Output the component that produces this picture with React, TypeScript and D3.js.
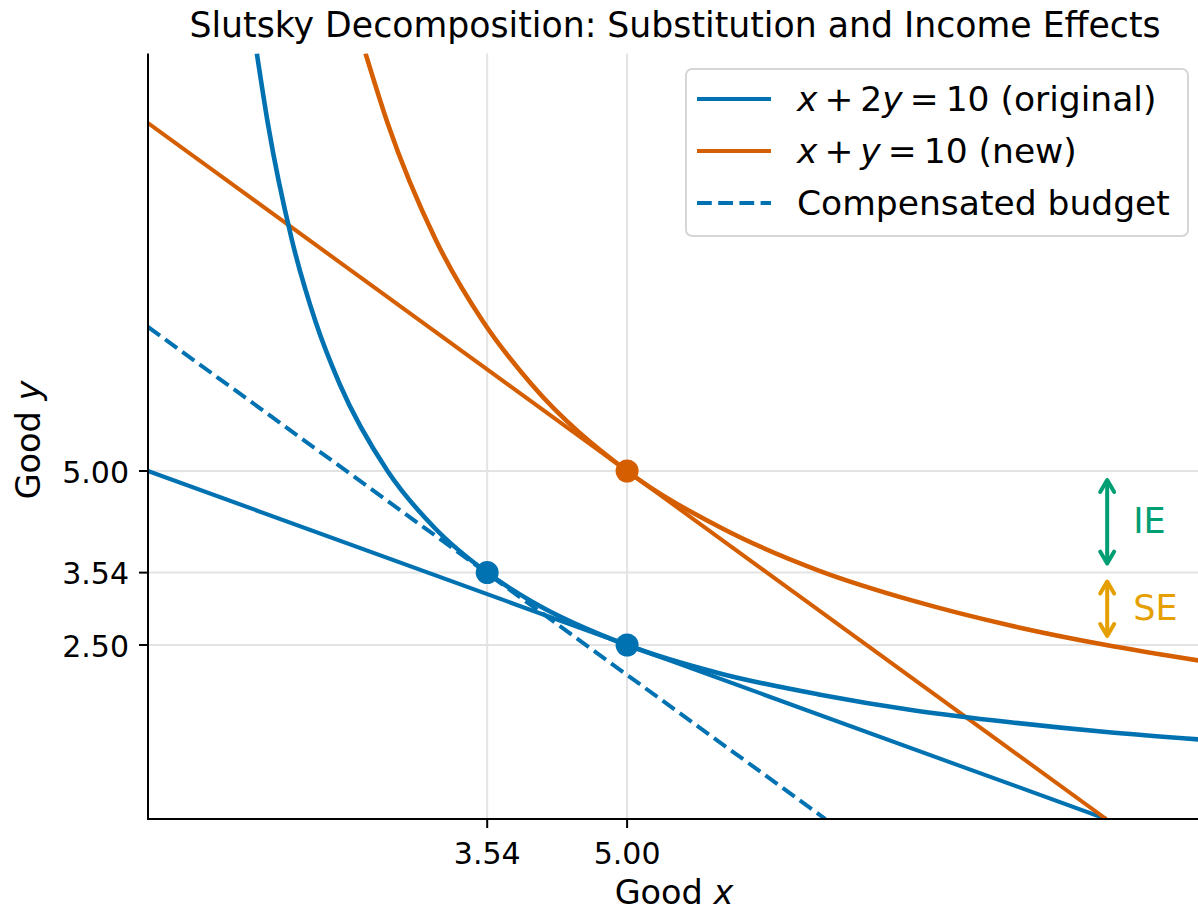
import { useEffect, useRef } from 'react';
import * as d3 from 'd3';

// colours (Okabe-Ito)
const BLUE = '#0072B2';
const ORANGE = '#D55E00';
const GREEN = '#009E73';
const GOLD = '#E69F00';

// indifference curves
const icOrigX = [1.136, 1.25, 1.5, 1.75, 2.0, 2.5, 3.0, 3.54, 4.0, 5.0, 6.0, 7.0, 8.0, 9.0, 10.0, 11.0];
const icOrigY = [11.0, 10.0, 8.33, 7.14, 6.25, 5.0, 4.17, 3.54, 3.13, 2.5, 2.08, 1.79, 1.56, 1.39, 1.25, 1.14];
const icNewX = [2.27, 2.5, 3.0, 3.5, 4.0, 5.0, 6.0, 7.0, 8.0, 9.0, 10.0, 11.0];
const icNewY = [11.0, 10.0, 8.33, 7.14, 6.25, 5.0, 4.17, 3.57, 3.13, 2.78, 2.5, 2.27];

// budget lines: endpoints [x, y]
const budgetOrig = [[0, 5], [10, 0]];
const budgetNew = [[0, 10], [10, 0]];
const budgetComp = [[0, 7.07], [7.07, 0]];

// optimal bundles
const bundles = [
  { x: 3.54, y: 3.54, color: BLUE },
  { x: 5.0, y: 2.5, color: BLUE },
  { x: 5.0, y: 5.0, color: ORANGE },
];

const xTicks = [3.54, 5.0];
const yTicks = [2.5, 3.54, 5.0];

// effect arrows at x = 10
const effects = [
  { label: 'IE', from: 3.54, to: 5.0, color: GREEN },
  { label: 'SE', from: 2.5, to: 3.54, color: GOLD },
];

const FONT = 'DejaVu Sans, Verdana, sans-serif';
const DASH = '14.8,6.4';

const App = () => {
  const ref = useRef<SVGSVGElement>(null);

  useEffect(() => {
    const svg = d3.select(ref.current);
    svg.selectAll('*').remove();

    const x = d3.scaleLinear().domain([0, 11]).range([148, 1202]);
    const y = d3.scaleLinear().domain([0, 11]).range([819, 53.4]);

    svg.append('defs').append('clipPath').attr('id', 'plotClip')
      .append('rect')
      .attr('x', x(0)).attr('y', y(11))
      .attr('width', x(11) - x(0)).attr('height', y(0) - y(11));

    // grid
    const grid = svg.append('g');
    grid.selectAll('.gx').data(xTicks).enter().append('line')
      .attr('x1', d => x(d)).attr('x2', d => x(d))
      .attr('y1', y(0)).attr('y2', y(11))
      .attr('stroke', '#e3e3e3').attr('stroke-width', 2);
    grid.selectAll('.gy').data(yTicks).enter().append('line')
      .attr('y1', d => y(d)).attr('y2', d => y(d))
      .attr('x1', x(0)).attr('x2', x(11))
      .attr('stroke', '#e3e3e3').attr('stroke-width', 2);

    const plot = svg.append('g').attr('clip-path', 'url(#plotClip)');

    const seg = d3.line<number[]>().x(d => x(d[0])).y(d => y(d[1]));
    const curve = d3.line<number[]>().x(d => x(d[0])).y(d => y(d[1])).curve(d3.curveMonotoneX);

    plot.append('path').attr('d', seg(budgetOrig))
      .attr('fill', 'none').attr('stroke', BLUE).attr('stroke-width', 4);
    plot.append('path').attr('d', seg(budgetNew))
      .attr('fill', 'none').attr('stroke', ORANGE).attr('stroke-width', 4);
    plot.append('path').attr('d', seg(budgetComp))
      .attr('fill', 'none').attr('stroke', BLUE).attr('stroke-width', 4)
      .attr('stroke-dasharray', DASH);

    plot.append('path').attr('d', curve(icOrigX.map((v, i) => [v, icOrigY[i]])))
      .attr('fill', 'none').attr('stroke', BLUE).attr('stroke-width', 4.6);
    plot.append('path').attr('d', curve(icNewX.map((v, i) => [v, icNewY[i]])))
      .attr('fill', 'none').attr('stroke', ORANGE).attr('stroke-width', 4.6);

    plot.selectAll('circle').data(bundles).enter().append('circle')
      .attr('cx', d => x(d.x)).attr('cy', d => y(d.y)).attr('r', 11.5)
      .attr('fill', d => d.color);

    // effect arrows
    const ax = x(10) + 1;
    effects.forEach(e => {
      const top = y(e.to) + 9;
      const bot = y(e.from) - 9;
      const g = svg.append('g').attr('stroke', e.color).attr('stroke-width', 4)
        .attr('fill', 'none').attr('stroke-linecap', 'round').attr('stroke-linejoin', 'round');
      g.append('line').attr('x1', ax).attr('x2', ax).attr('y1', top + 1).attr('y2', bot - 1);
      g.append('polyline').attr('points', `${ax - 7},${top + 12} ${ax},${top} ${ax + 7},${top + 12}`);
      g.append('polyline').attr('points', `${ax - 7},${bot - 12} ${ax},${bot} ${ax + 7},${bot - 12}`);
      svg.append('text').text(e.label)
        .attr('x', ax + 26).attr('y', (y(e.to) + y(e.from)) / 2 + 11.5)
        .attr('fill', e.color).style('font-family', FONT).style('font-size', '35px');
    });

    // spines
    svg.append('line').attr('x1', x(0)).attr('x2', x(0)).attr('y1', y(11)).attr('y2', y(0) + 1)
      .attr('stroke', 'black').attr('stroke-width', 2);
    svg.append('line').attr('x1', x(0) - 1).attr('x2', 1198).attr('y1', y(0)).attr('y2', y(0))
      .attr('stroke', 'black').attr('stroke-width', 2);

    // ticks
    const xt = svg.append('g').selectAll('g').data(xTicks).enter().append('g');
    xt.append('line').attr('x1', d => x(d)).attr('x2', d => x(d)).attr('y1', y(0)).attr('y2', y(0) + 9)
      .attr('stroke', 'black').attr('stroke-width', 2);
    xt.append('text').text(d => d.toFixed(2)).attr('x', d => x(d)).attr('y', 864)
      .attr('text-anchor', 'middle').style('font-family', FONT).style('font-size', '30px');
    const yt = svg.append('g').selectAll('g').data(yTicks).enter().append('g');
    yt.append('line').attr('x1', x(0) - 9).attr('x2', x(0)).attr('y1', d => y(d)).attr('y2', d => y(d))
      .attr('stroke', 'black').attr('stroke-width', 2);
    yt.append('text').text(d => d.toFixed(2)).attr('x', x(0) - 19).attr('y', d => y(d) + 11.5)
      .attr('text-anchor', 'end').style('font-family', FONT).style('font-size', '30px');

    // axis labels
    const xl = svg.append('text').attr('x', 674).attr('y', 904).attr('text-anchor', 'middle')
      .style('font-family', FONT).style('font-size', '33.5px');
    xl.append('tspan').text('Good ');
    xl.append('tspan').text('x').style('font-style', 'italic');
    const yl = svg.append('text').attr('transform', `translate(40,440) rotate(-90)`)
      .attr('text-anchor', 'middle').style('font-family', FONT).style('font-size', '33.5px');
    yl.append('tspan').text('Good ');
    yl.append('tspan').text('y').style('font-style', 'italic');

    // title
    svg.append('text').text('Slutsky Decomposition: Substitution and Income Effects')
      .attr('x', 675).attr('y', 37).attr('text-anchor', 'middle')
      .style('font-family', FONT).style('font-size', '34.7px');

    // legend (math parts: [text, italic, dx])
    const lg = svg.append('g');
    lg.append('rect').attr('x', 686).attr('y', 69).attr('width', 502).attr('height', 167)
      .attr('rx', 6).attr('fill', 'white').attr('fill-opacity', 0.8)
      .attr('stroke', '#d6d6d6').attr('stroke-width', 2);
    const items = [
      { parts: [['x', true, 0], ['+', false, 7], ['2', false, 7], ['y', true, 0], ['=', false, 7], ['10', false, 7], [' (original)', false, 0]], color: BLUE, dash: null },
      { parts: [['x', true, 0], ['+', false, 7], ['y', true, 7], ['=', false, 7], ['10', false, 7], [' (new)', false, 0]], color: ORANGE, dash: null },
      { parts: [['Compensated budget', false, 0]], color: BLUE, dash: DASH },
    ];
    items.forEach((it, i) => {
      const cy = 99 + i * 52;
      lg.append('line').attr('x1', 697).attr('x2', 771).attr('y1', cy).attr('y2', cy)
        .attr('stroke', it.color).attr('stroke-width', 4)
        .attr('stroke-dasharray', it.dash ?? null);
      const t = lg.append('text').attr('x', 797).attr('y', cy + 12)
        .style('font-family', FONT).style('font-size', '34.5px')
        .style('white-space', 'pre');
      it.parts.forEach(p => {
        t.append('tspan').text(p[0] as string)
          .attr('dx', p[2] as number)
          .style('font-style', p[1] ? 'italic' : 'normal');
      });
    });
  }, []);

  return (
    <div>
      <svg ref={ref} width={1198} height={909}
        style={{ position: 'absolute', left: 0, top: 0, display: 'block' }} />
    </div>
  );
};

export default App;
